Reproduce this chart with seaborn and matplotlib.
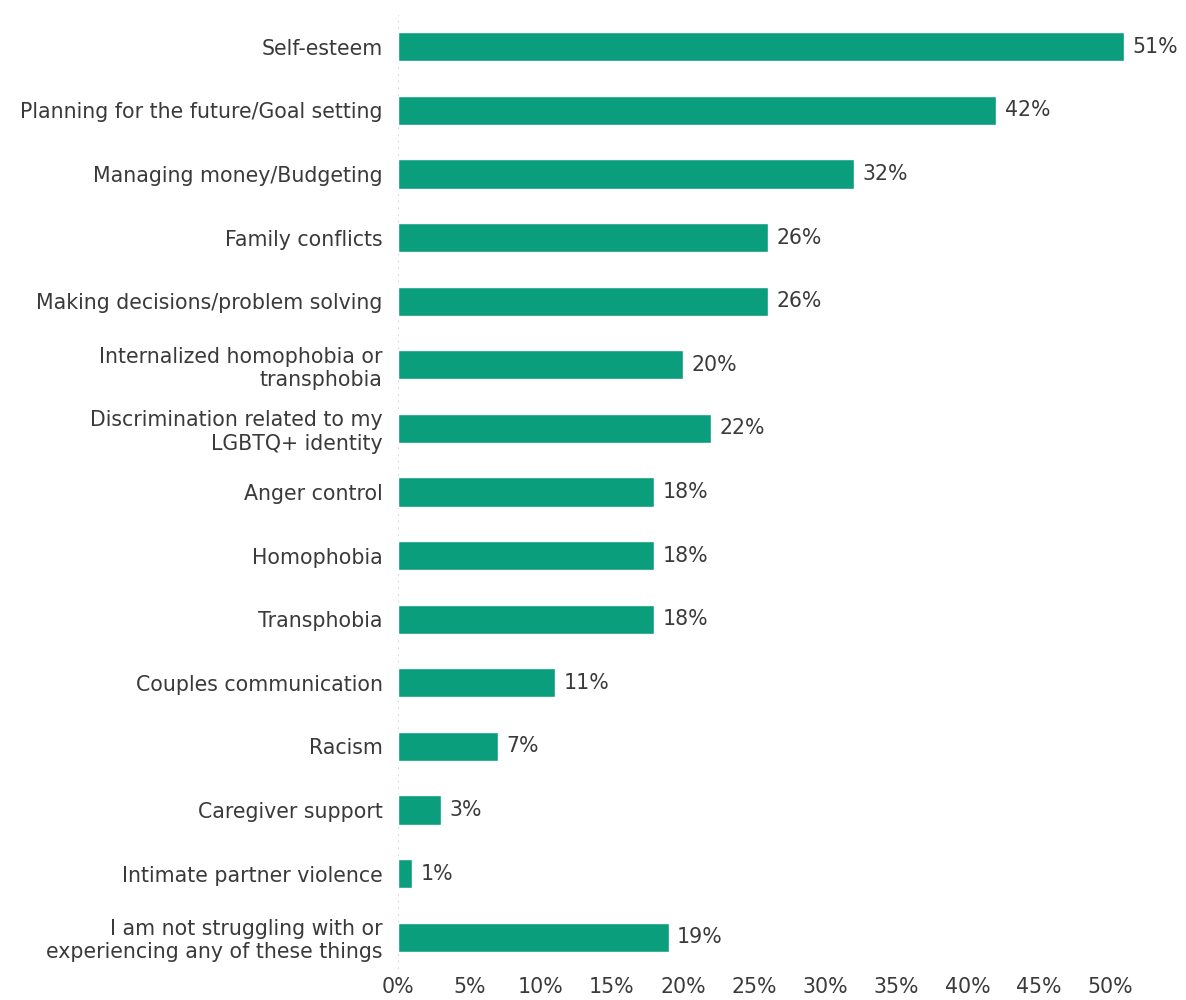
import matplotlib
matplotlib.use("Agg")
import matplotlib.pyplot as plt
import seaborn as sns
import pandas as pd
from matplotlib.ticker import PercentFormatter

sns.set_theme(style="white")
plt.rcParams["font.family"] = ["DejaVu Sans"]

categories = [
    "Self-esteem",
    "Planning for the future/Goal setting",
    "Managing money/Budgeting",
    "Family conflicts",
    "Making decisions/problem solving",
    "Internalized homophobia or\ntransphobia",
    "Discrimination related to my\nLGBTQ+ identity",
    "Anger control",
    "Homophobia",
    "Transphobia",
    "Couples communication",
    "Racism",
    "Caregiver support",
    "Intimate partner violence",
    "I am not struggling with or\nexperiencing any of these things",
]
values = [51, 42, 32, 26, 26, 20, 22, 18, 18, 18, 11, 7, 3, 1, 19]

df = pd.DataFrame({"category": categories, "value": values})

barColor = "#0a9e7c"
textColor = "#3a3a3a"
fontSize = 14.8

fig = plt.figure(figsize=(11.86, 10), dpi=100)
ax = fig.add_axes([0.3356, 0.031, 0.6364, 0.954])

sns.barplot(data=df, x="value", y="category", orient="h", color=barColor,
            width=0.46, saturation=1, ax=ax)

for i, v in enumerate(values):
    ax.text(v + 0.6, i, f"{v}%", va="center", ha="left", fontsize=fontSize, color=textColor)

ax.set_xlim(0, 53)
ax.set_ylim(len(categories) - 0.5, -0.5)
ax.set_xticks(range(0, 55, 5))
ax.xaxis.set_major_formatter(PercentFormatter(decimals=0))
ax.set_xlabel("")
ax.set_ylabel("")
ax.tick_params(axis="both", length=0, labelsize=fontSize, labelcolor=textColor)
ax.tick_params(axis="y", pad=11)
ax.tick_params(axis="x", pad=6)
for s in ax.spines.values():
    s.set_visible(False)
ax.axvline(0, color="#cccccc", linestyle=(0, (1, 3)), linewidth=1.2, zorder=0)
for lbl in ax.get_yticklabels():
    lbl.set_multialignment("right")

fig.savefig("out.png", dpi=100, facecolor="white")
